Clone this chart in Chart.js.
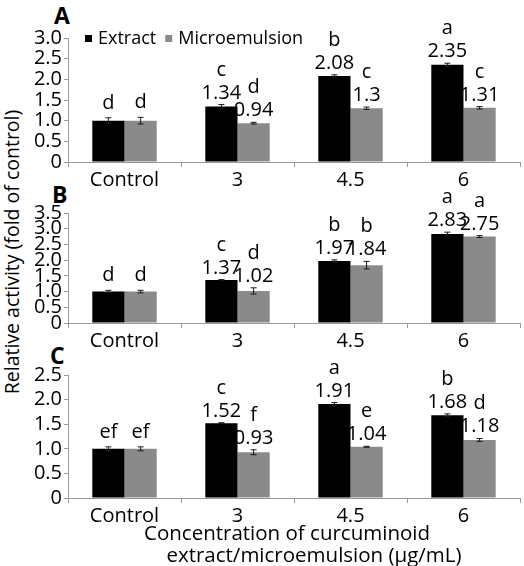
<!DOCTYPE html>
<html>
<head>
<meta charset="utf-8">
<script src="https://cdn.jsdelivr.net/npm/chart.js@4"></script>
<style>
  body { margin: 0; background: #fff; font-family: 'Open Sans', sans-serif; }
  #wrap { position: relative; width: 524px; height: 566px; overflow: hidden; }
  canvas { position: absolute; left: 0; }
  .letter { position: absolute; font-weight: bold; font-size: 23px; line-height: 23px; }
  #ytitle { position: absolute; width: 320px; left: -148px; top: 240px; text-align: center;
            font-size: 19.5px; line-height: 24px; transform: rotate(-90deg); }
  .xtitle { position: absolute; width: 400px; text-align: center; font-size: 20.5px; line-height: 22px; }
</style>
</head>
<body>
<div id="wrap">
  <div class="letter" style="left:54px;top:4px">A</div>
  <div class="letter" style="left:52px;top:183px">B</div>
  <div class="letter" style="left:50px;top:344px">C</div>
  <div id="ytitle">Relative activity (fold of control)</div>
  <canvas id="chartA" width="524" height="192" style="top:0px"></canvas>
  <canvas id="chartB" width="524" height="163" style="top:190px"></canvas>
  <canvas id="chartC" width="524" height="213" style="top:353px"></canvas>
  <div class="xtitle" style="left:87px;top:521px">Concentration of curcuminoid</div>
  <div class="xtitle" style="left:114px;top:543px">extract/microemulsion (µg/mL)</div>
</div>
<script>
const categories = ['Control', '3', '4.5', '6'];
const seriesNames = ['Extract', 'Microemulsion'];

// panel A
const extractA = [1.0, 1.34, 2.08, 2.35];
const microA = [1.0, 0.94, 1.3, 1.31];
const extractErrA = [0.07, 0.05, 0.03, 0.04];
const microErrA = [0.08, 0.02, 0.03, 0.03];
const extractLetA = ['d', 'c', 'b', 'a'];
const microLetA = ['d', 'd', 'c', 'c'];

// panel B
const extractB = [1.0, 1.37, 1.97, 2.83];
const microB = [1.0, 1.02, 1.84, 2.75];
const extractErrB = [0.04, 0.01, 0.04, 0.06];
const microErrB = [0.04, 0.1, 0.12, 0.03];
const extractLetB = ['d', 'c', 'b', 'a'];
const microLetB = ['d', 'd', 'b', 'a'];

// panel C
const extractC = [1.0, 1.52, 1.91, 1.68];
const microC = [1.0, 0.93, 1.04, 1.18];
const extractErrC = [0.04, 0.01, 0.03, 0.03];
const microErrC = [0.04, 0.05, 0.01, 0.03];
const extractLetC = ['ef', 'c', 'a', 'b'];
const microLetC = ['ef', 'f', 'e', 'd'];

const colors = ['#000000', '#8a8a8a'];
const FONT = "'Open Sans', sans-serif";

// error bars, value labels and significance letters (plus legend for panel A)
const annotate = {
    id: 'annotate',
    afterDatasetsDraw(chart) {
        const ctx = chart.ctx;
        const y = chart.scales.y;
        ctx.save();
        chart.data.datasets.forEach((ds, di) => {
            const meta = chart.getDatasetMeta(di);
            meta.data.forEach((bar, i) => {
                const v = ds.data[i], e = ds.errors[i];
                const top = y.getPixelForValue(v + e);
                const bot = y.getPixelForValue(v - e);
                ctx.strokeStyle = '#1a1a1a';
                ctx.lineWidth = 1;
                ctx.beginPath();
                ctx.moveTo(bar.x, top); ctx.lineTo(bar.x, bot);
                ctx.moveTo(bar.x - 3, top); ctx.lineTo(bar.x + 3, top);
                ctx.moveTo(bar.x - 3, bot); ctx.lineTo(bar.x + 3, bot);
                ctx.stroke();

                ctx.fillStyle = '#000';
                ctx.font = '20px ' + FONT;
                ctx.textAlign = 'center';
                ctx.textBaseline = 'alphabetic';
                if (i === 0) {
                    ctx.fillText(ds.letters[i], bar.x, top - 9);
                } else {
                    ctx.fillText(String(v), bar.x, top - 6);
                    ctx.fillText(ds.letters[i], bar.x, top - 29);
                }
            });
        });
        if (chart.options.plugins.annotate.legend) {
            let x = 85;
            ctx.font = '18px ' + FONT;
            ctx.textAlign = 'left';
            chart.data.datasets.forEach(ds => {
                ctx.fillStyle = ds.backgroundColor;
                ctx.fillRect(x, 35, 7, 7);
                ctx.fillStyle = '#000';
                ctx.fillText(ds.label, x + 13, 44);
                x += 13 + ctx.measureText(ds.label).width + 9;
            });
        }
        ctx.restore();
    }
};

function make_panel(id, ext, mic, extErr, micErr, extLet, micLet, ymax, padTop, xHeight, legend) {
    return new Chart(document.getElementById(id).getContext('2d'), {
        type: 'bar',
        data: {
            labels: categories,
            datasets: [
                { label: seriesNames[0], data: ext, errors: extErr, letters: extLet, backgroundColor: colors[0],
                  barPercentage: 1, categoryPercentage: 0.57 },
                { label: seriesNames[1], data: mic, errors: micErr, letters: micLet, backgroundColor: colors[1],
                  barPercentage: 1, categoryPercentage: 0.57 }
            ]
        },
        options: {
            responsive: false,
            animation: false,
            layout: { padding: { top: padTop, right: 4, left: 0, bottom: 0 } },
            plugins: { legend: { display: false }, tooltip: { enabled: false }, annotate: { legend: legend } },
            scales: {
                x: {
                    grid: { drawOnChartArea: false, tickLength: 5, color: '#999' },
                    border: { color: '#999' },
                    ticks: { color: '#000', font: { family: FONT, size: 20 }, padding: 1 },
                    afterFit: s => { s.height = xHeight; }
                },
                y: {
                    min: 0, max: ymax,
                    grid: { drawOnChartArea: false, tickLength: 4, color: '#999' },
                    border: { color: '#999' },
                    ticks: { stepSize: 0.5, autoSkip: false, color: '#000', padding: 2,
                             font: { family: FONT, size: 20, lineHeight: 1 },
                             callback: v => v === 0 ? '0' : v.toFixed(1) },
                    afterFit: s => { s.width = 68; }
                }
            }
        },
        plugins: [annotate]
    });
}

make_panel('chartA', extractA, microA, extractErrA, microErrA, extractLetA, microLetA, 3.0, 38, 30, true);
make_panel('chartB', extractB, microB, extractErrB, microErrB, extractLetB, microLetB, 3.5, 23, 30, false);
make_panel('chartC', extractC, microC, extractErrC, microErrC, extractLetC, microLetC, 2.5, 22, 68, false);
</script>
</body>
</html>
